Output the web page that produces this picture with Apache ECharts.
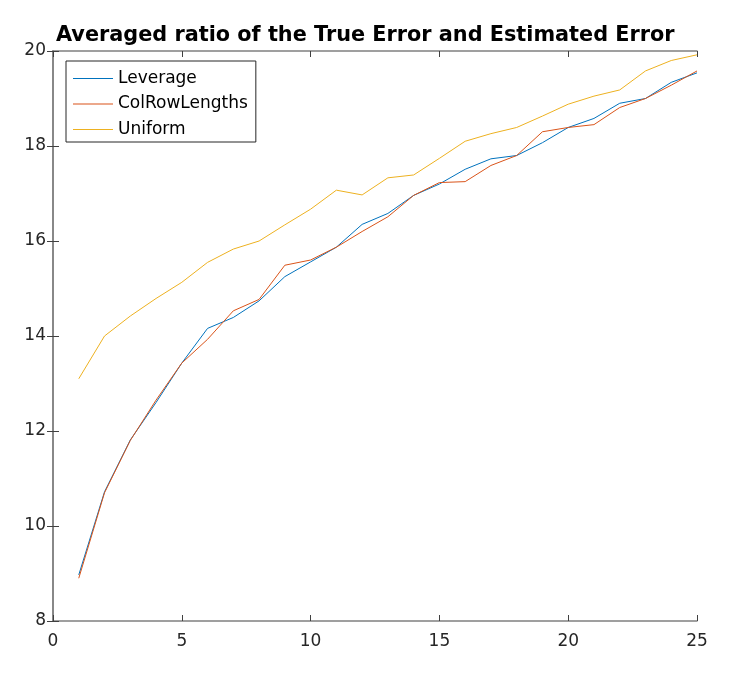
<!DOCTYPE html>
<html><head><meta charset="utf-8">
<script src="https://cdn.jsdelivr.net/npm/echarts@6/dist/echarts.min.js"></script>
<style>html,body{margin:0;padding:0;background:#fff}#c{width:756px;height:680px}</style>
</head><body><div id="c"></div>
<script>
const xs = [1,2,3,4,5,6,7,8,9,10,11,12,13,14,15,16,17,18,19,20,21,22,23,24,25];
const leverage = [8.97,10.72,11.81,12.6,13.43,14.16,14.39,14.74,15.25,15.56,15.87,16.35,16.58,16.96,17.2,17.51,17.73,17.8,18.07,18.39,18.58,18.9,19.0,19.34,19.54];
const colRowLengths = [8.9,10.7,11.8,12.65,13.43,13.93,14.53,14.77,15.49,15.6,15.87,16.2,16.51,16.96,17.23,17.25,17.59,17.8,18.3,18.39,18.45,18.81,19.0,19.28,19.58];
const uniform = [13.1,14.0,14.42,14.79,15.13,15.55,15.83,16.0,16.34,16.67,17.07,16.97,17.33,17.39,17.74,18.1,18.26,18.39,18.63,18.88,19.05,19.18,19.58,19.8,19.92];
const names = ['Leverage','ColRowLengths','Uniform'];
const colors = ['#0072BD','#D95319','#EDB120'];
const pair = a => xs.map((x,i)=>[x,a[i]]);
const axisCol = '#262626';
const font = 'DejaVu Sans, sans-serif';
const baseAxis = {
  type:'value', axisLine:{show:true,lineStyle:{color:'#808080',width:1.5}},
  axisTick:{show:true,inside:true,length:6,lineStyle:{color:'#404040'}},
  splitLine:{show:false},
  axisLabel:{color:axisCol,fontSize:17,fontFamily:font}
};
const chart = echarts.init(document.getElementById('c'));
chart.setOption({
  animation:false,
  title:{text:'Averaged ratio of the True Error and Estimated Error',left:51,top:20,
    textStyle:{fontSize:20.8,fontWeight:'bold',color:'#000',fontFamily:font}},
  grid:{left:53,right:59,top:51,bottom:59,containLabel:false},
  legend:{orient:'vertical',left:66,top:61,data:names,backgroundColor:'#fff',
    borderColor:axisCol,borderWidth:1,padding:[9,8,4,7],itemGap:8.5,itemWidth:40,itemHeight:14,
    icon:'path://M0,7 L40,7 L40,8 L0,8 Z',
    textStyle:{fontSize:17,color:'#000',fontFamily:font}},
  xAxis:[
    Object.assign({},baseAxis,{min:0,max:25,interval:5,position:'bottom',axisLabel:Object.assign({},baseAxis.axisLabel,{margin:12})}),
    Object.assign({},baseAxis,{min:0,max:25,interval:5,position:'top',axisLabel:{show:false}})
  ],
  yAxis:[
    Object.assign({},baseAxis,{min:8,max:20,interval:2,position:'left',axisLabel:Object.assign({},baseAxis.axisLabel,{margin:7})}),
    Object.assign({},baseAxis,{min:8,max:20,interval:2,position:'right',axisLabel:{show:false}})
  ],
  series:[
    {name:names[0],type:'line',data:pair(leverage),symbol:'none',lineStyle:{color:colors[0],width:1},itemStyle:{color:colors[0]}},
    {name:names[1],type:'line',data:pair(colRowLengths),symbol:'none',lineStyle:{color:colors[1],width:1},itemStyle:{color:colors[1]}},
    {name:names[2],type:'line',data:pair(uniform),symbol:'none',lineStyle:{color:colors[2],width:1},itemStyle:{color:colors[2]}}
  ]
});
</script></body></html>
